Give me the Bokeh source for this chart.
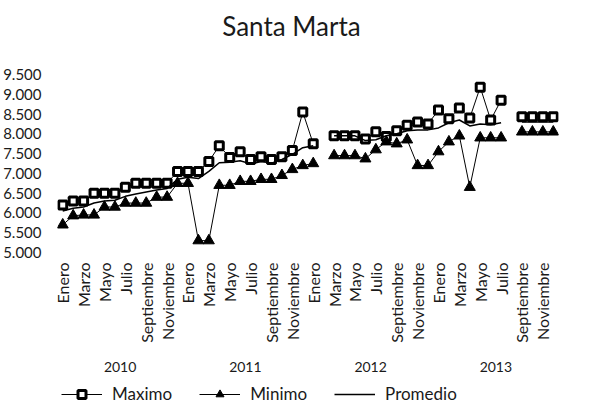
import math
from bokeh.plotting import figure
from bokeh.layouts import column
from bokeh.models import (LinearAxis, FixedTicker, Legend, LegendItem, Range1d,
                          Label, ColumnDataSource)
from bokeh.embed import file_html
from bokeh.resources import INLINE

nan = float("nan")

# ---------------- data ----------------
month_names = ["Enero", "Febrero", "Marzo", "Abril", "Mayo", "Junio", "Julio",
               "Agosto", "Septiembre", "Octubre", "Noviembre", "Diciembre"]
years = ["2010", "2011", "2012", "2013"]

maximo = [6200, 6300, 6300, 6500, 6500, 6500, 6650, 6750, 6750, 6750, 6750, 7050,
          7050, 7050, 7300, 7700, 7400, 7550, 7350, 7420, 7350, 7420, 7580, 8550,
          7750, nan, 7950, 7950, 7950, 7870, 8050, 7930, 8080, 8220, 8300, 8250,
          8600, 8380, 8650, 8400, 9180, 8350, 8850, nan, 8430, 8430, 8430, 8430]

minimo = [5700, 5930, 5950, 5950, 6150, 6150, 6250, 6250, 6250, 6400, 6400, 6750,
          6750, 5300, 5300, 6700, 6700, 6800, 6800, 6850, 6850, 6950, 7100, 7200,
          7250, nan, 7450, 7450, 7450, 7370, 7600, 7800, 7750, 7850, 7200, 7200,
          7550, 7800, 7950, 6650, 7900, 7900, 7900, nan, 8050, 8050, 8050, 8050]

promedio = [6050, 6120, 6150, 6250, 6300, 6320, 6420, 6480, 6530, 6580, 6620, 6850,
            6900, 6870, 7050, 7270, 7280, 7320, 7240, 7300, 7260, 7350, 7480, 7650,
            7700, nan, 7950, 7950, 7950, 7830, 7850, 7950, 8000, 8080, 8100, 8100,
            8150, 8280, 8350, 8200, 8250, 8230, 8280, nan, 8300, 8300, 8300, 8300]

y_ticks = [5000, 5500, 6000, 6500, 7000, 7500, 8000, 8500, 9000, 9500]
y_tick_labels = ["5.000", "5.500", "6.000", "6.500", "7.000", "7.500",
                 "8.000", "8.500", "9.000", "9.500"]

# ---------------- layout constants ----------------
FONT = "Lato"
TXT = "#1a1a1a"
W = 583
BORDER_L, BORDER_R = 54, 25
TOP_GAP = 74          # space above the 9.500 line (holds the title)
PLOT_H = 178          # pixels between 5.000 and 9.500
BOTTOM = 130          # month + year axes
LEG_H = 22
y_lo, y_hi = y_ticks[0], y_ticks[-1]
y_top = y_hi + TOP_GAP * (y_hi - y_lo) / PLOT_H

month_idx = list(range(len(maximo)))
src = ColumnDataSource(dict(x=month_idx, maximo=maximo, minimo=minimo, promedio=promedio))

p = figure(width=W, height=TOP_GAP + PLOT_H + BOTTOM,
           x_range=Range1d(-0.5, 47.5), y_range=Range1d(y_lo, y_top),
           output_backend="svg", toolbar_location=None,
           min_border_left=BORDER_L, min_border_right=BORDER_R,
           min_border_top=0, min_border_bottom=BOTTOM)
p.outline_line_color = None
p.xgrid.visible = False
p.ygrid.visible = False


def plain_axis(ax, size, standoff):
    ax.axis_line_color = None
    ax.major_tick_line_color = None
    ax.minor_tick_line_color = None
    ax.major_tick_out = 0
    ax.major_tick_in = 0
    ax.minor_tick_out = 0
    ax.minor_tick_in = 0
    ax.major_label_text_font = FONT
    ax.major_label_text_font_size = size
    ax.major_label_text_color = TXT
    ax.major_label_standoff = standoff


# y axis
p.yaxis.ticker = FixedTicker(ticks=y_ticks)
p.yaxis.major_label_overrides = {t: l for t, l in zip(y_ticks, y_tick_labels)}
plain_axis(p.yaxis[0], "15px", 16)

# month axis
month_ticks = [k for k in month_idx if k % 2 == 0]
p.xaxis.ticker = FixedTicker(ticks=month_ticks)
p.xaxis.major_label_overrides = {k: month_names[k % 12] for k in month_ticks}
p.xaxis.major_label_orientation = math.pi / 2
plain_axis(p.xaxis[0], "16px", 10)

# year axis (doubled range so centres are integers)
p.extra_x_ranges = {"yr": Range1d(-1, 95)}
year_ticks = [11 + 24 * i for i in range(len(years))]
yax = LinearAxis(x_range_name="yr", ticker=FixedTicker(ticks=year_ticks),
                 major_label_overrides={t: y for t, y in zip(year_ticks, years)})
plain_axis(yax, "14px", 16)
p.add_layout(yax, "below")

# title (inside the frame's upper margin)
p.add_layout(Label(x=234, y=TOP_GAP + PLOT_H - 25, x_units="screen", y_units="screen",
                   text="Santa Marta", text_font=FONT, text_font_size="26px",
                   text_color=TXT, text_align="center", text_baseline="alphabetic"))

# series
l_max = p.line("x", "maximo", source=src, line_color="black", line_width=1)
s_max = p.scatter("x", "maximo", source=src, marker="square", size=8,
                  fill_color="white", line_color="black", line_width=3)
l_min = p.line("x", "minimo", source=src, line_color="black", line_width=1)
s_min = p.scatter("x", "minimo", source=src, marker="triangle", size=11,
                  fill_color="black", line_color="black", line_width=1)
l_avg = p.line("x", "promedio", source=src, line_color="black", line_width=1.5)

# ---------------- legend strip ----------------
# same series, drawn in a strip whose ranges keep them out of view: only the legend shows
lg = figure(width=W, height=LEG_H, x_axis_type=None, y_axis_type=None,
            x_range=Range1d(-200, -100), y_range=Range1d(-200, -100),
            output_backend="svg", toolbar_location=None, min_border=0)
lg.outline_line_color = None
lg.xgrid.visible = False
lg.ygrid.visible = False
g_max_l = lg.line("x", "maximo", source=src, line_color="black", line_width=1)
g_max_s = lg.scatter("x", "maximo", source=src, marker="square", size=8,
                     fill_color="white", line_color="black", line_width=3)
g_min_l = lg.line("x", "minimo", source=src, line_color="black", line_width=1)
g_min_s = lg.scatter("x", "minimo", source=src, marker="triangle", size=11,
                     fill_color="black", line_color="black", line_width=1)
g_avg_l = lg.line("x", "promedio", source=src, line_color="black", line_width=1.5)

legend = Legend(items=[LegendItem(label="Maximo", renderers=[g_max_l, g_max_s]),
                       LegendItem(label="Minimo", renderers=[g_min_l, g_min_s]),
                       LegendItem(label="Promedio", renderers=[g_avg_l])],
                orientation="horizontal", location=(4, 0),
                label_text_font=FONT, label_text_font_size="17px",
                label_text_color=TXT, glyph_width=41, glyph_height=20,
                label_height=20, label_standoff=10, spacing=27, margin=0,
                padding=0, border_line_color=None, background_fill_alpha=0)
lg.add_layout(legend, "center")

layout = column(p, lg, spacing=0)
open("out.html", "w").write(file_html(layout, INLINE))
